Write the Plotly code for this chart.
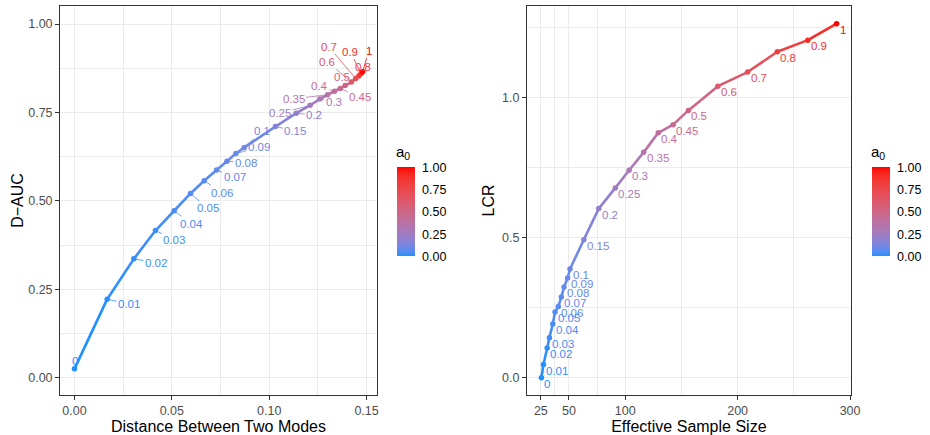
import plotly.graph_objects as go

# ---------------- data ----------------
a0 = [0, 0.01, 0.02, 0.03, 0.04, 0.05, 0.06, 0.07, 0.08, 0.09, 0.1,
      0.15, 0.2, 0.25, 0.3, 0.35, 0.4, 0.45, 0.5, 0.6, 0.7, 0.8, 0.9, 1]
a0_labels = ["0", "0.01", "0.02", "0.03", "0.04", "0.05", "0.06", "0.07", "0.08", "0.09", "0.1",
             "0.15", "0.2", "0.25", "0.3", "0.35", "0.4", "0.45", "0.5", "0.6", "0.7", "0.8", "0.9", "1"]

# left panel
distance = [0.0, 0.0168, 0.0305, 0.0416, 0.0512, 0.0596, 0.0666, 0.0730, 0.0783, 0.0829, 0.0872,
            0.1032, 0.1139, 0.1210, 0.1260, 0.1300, 0.1335, 0.1365, 0.1390, 0.1422, 0.1444,
            0.1460, 0.1472, 0.1480]
dauc = [0.025, 0.222, 0.336, 0.416, 0.472, 0.521, 0.557, 0.587, 0.612, 0.634, 0.651,
        0.710, 0.748, 0.770, 0.788, 0.800, 0.810, 0.818, 0.826, 0.836, 0.846, 0.853, 0.860, 0.865]

# right panel
ess = [25.5, 27.3, 30.6, 32.6, 35.6, 37.6, 40.5, 43.2, 45.6, 48.8, 50.9,
       63.2, 76.5, 91.2, 103.5, 116.4, 129.4, 142.6, 156.2, 182.4, 208.9, 235.3, 262.4, 288.0]
lcr = [0.0, 0.047, 0.106, 0.143, 0.192, 0.235, 0.254, 0.288, 0.3235, 0.356, 0.388,
       0.493, 0.604, 0.678, 0.741, 0.805, 0.875, 0.904, 0.955, 1.0415, 1.092, 1.1645, 1.206, 1.265]

legend_ticks = [0, 0.25, 0.5, 0.75, 1.0]
legend_ticktext = ["0.00", "0.25", "0.50", "0.75", "1.00"]

# repel-style label offsets (pixels) for the left panel: (dx, dy, draw_segment)
left_label_offsets = [
    (1, -8, False), (22, 5, True), (22, 4, True), (19, 9, True), (17, 13, True),
    (17, 15, True), (18, 12, True), (18, 7, True), (19, 1.5, True), (23, -6, True),
    (18, -16, True), (20, 4, True), (18, 2, True), (-30, 8, True), (14, 3, True),
    (-34, 4, True), (-15, -5, True), (20, 9, True), (-3, -9, False), (-24, -20, True),
    (-27, -32, True), (4, -9, False), (-11, -22, True), (6, -21, True),
]

# ---------------- colour scale (Lab interpolation like ggplot) ----------------
LOW = (30, 144, 255)
HIGH = (255, 0, 0)


def _lin(c):
    c = c / 255.0
    return c / 12.92 if c <= 0.04045 else ((c + 0.055) / 1.055) ** 2.4


def _gam(c):
    c = 12.92 * c if c <= 0.0031308 else 1.055 * c ** (1 / 2.4) - 0.055
    return max(0, min(255, round(c * 255)))


WHITE = (0.95047, 1.0, 1.08883)


def rgb2lab(rgb):
    r, g, b = [_lin(v) for v in rgb]
    X = 0.4124 * r + 0.3576 * g + 0.1805 * b
    Y = 0.2126 * r + 0.7152 * g + 0.0722 * b
    Z = 0.0193 * r + 0.1192 * g + 0.9505 * b

    def f(t):
        return t ** (1 / 3) if t > 216 / 24389 else (24389 / 27 * t + 16) / 116
    fx, fy, fz = f(X / WHITE[0]), f(Y / WHITE[1]), f(Z / WHITE[2])
    return (116 * fy - 16, 500 * (fx - fy), 200 * (fy - fz))


def lab2rgb(lab):
    L, a, b = lab
    fy = (L + 16) / 116
    fx = fy + a / 500
    fz = fy - b / 200

    def finv(t):
        return t ** 3 if t ** 3 > 216 / 24389 else (116 * t - 16) / (24389 / 27)
    X, Y, Z = finv(fx) * WHITE[0], finv(fy) * WHITE[1], finv(fz) * WHITE[2]
    r = 3.2406 * X - 1.5372 * Y - 0.4986 * Z
    g = -0.9689 * X + 1.8758 * Y + 0.0415 * Z
    bb = 0.0557 * X - 0.2040 * Y + 1.0570 * Z
    return (_gam(r), _gam(g), _gam(bb))


LAB_LOW, LAB_HIGH = rgb2lab(LOW), rgb2lab(HIGH)


def colour(v):
    lab = tuple(l + (h - l) * v for l, h in zip(LAB_LOW, LAB_HIGH))
    r, g, b = lab2rgb(lab)
    return f"rgb({r},{g},{b})"


colorscale = [[i / 20, colour(i / 20)] for i in range(21)]
cols = [colour(v) for v in a0]

FONT = "Liberation Sans, Arial, sans-serif"

# ---------------- figure ----------------
W, H = 930, 435
fig = go.Figure()

for i in range(len(a0) - 1):
    fig.add_trace(go.Scatter(x=distance[i:i + 2], y=dauc[i:i + 2], mode="lines",
                             line=dict(color=cols[i], width=2.6), hoverinfo="skip",
                             showlegend=False, xaxis="x", yaxis="y"))
    fig.add_trace(go.Scatter(x=ess[i:i + 2], y=lcr[i:i + 2], mode="lines",
                             line=dict(color=cols[i], width=2.6), hoverinfo="skip",
                             showlegend=False, xaxis="x2", yaxis="y2"))

fig.add_trace(go.Scatter(x=distance, y=dauc, mode="markers",
                         marker=dict(size=5.5, color=a0, coloraxis="coloraxis"),
                         showlegend=False, xaxis="x", yaxis="y"))
fig.add_trace(go.Scatter(x=ess, y=lcr, mode="markers",
                         marker=dict(size=5.5, color=a0, coloraxis="coloraxis2"),
                         showlegend=False, xaxis="x2", yaxis="y2"))

annotations = []
for xv, yv, lab, c, (dx, dy, seg) in zip(distance, dauc, a0_labels, cols, left_label_offsets):
    if seg:
        annotations.append(dict(x=xv, y=yv, xref="x", yref="y", text=lab, showarrow=True,
                                ax=dx, ay=dy, arrowhead=0, arrowwidth=0.8, arrowcolor=c,
                                standoff=2, font=dict(size=11.5, color=c, family=FONT)))
    else:
        annotations.append(dict(x=xv, y=yv, xref="x", yref="y", text=lab, showarrow=False,
                                xshift=dx, yshift=-dy,
                                font=dict(size=11.5, color=c, family=FONT)))

for xv, yv, lab, c in zip(ess, lcr, a0_labels, cols):
    annotations.append(dict(x=xv, y=yv, xref="x2", yref="y2", text=lab, showarrow=False,
                            xanchor="left", yanchor="top", xshift=1, yshift=2,
                            font=dict(size=11.5, color=c, family=FONT)))

for xp in (398, 878):
    annotations.append(dict(x=xp / W, y=1 - 152 / H, xref="paper", yref="paper",
                            text="a<sub>0</sub>", showarrow=False, xanchor="left",
                            yanchor="middle", font=dict(size=15, color="black")))

grid = "#EBEBEB"
axis_common = dict(showline=True, mirror=True, linecolor="#333333", linewidth=1,
                   ticks="outside", ticklen=4, tickcolor="#333333", tickwidth=1,
                   showgrid=True, gridcolor=grid, gridwidth=1, zeroline=False,
                   tickfont=dict(size=12.5, color="#4D4D4D"),
                   title_font=dict(size=16, color="black"))

cb_common = dict(thickness=18, thicknessmode="pixels", len=89, lenmode="pixels",
                 y=1 - 212 / H, yanchor="middle", xanchor="left", xpad=0, ypad=0,
                 outlinewidth=0, tickvals=legend_ticks, ticktext=legend_ticktext,
                 ticks="outside", tickcolor="rgba(0,0,0,0)", ticklen=5,
                 tickfont=dict(size=12.5, color="black"))

fig.update_layout(
    width=W, height=H, margin=dict(l=0, r=0, t=0, b=0),
    paper_bgcolor="white", plot_bgcolor="white",
    font=dict(family=FONT),
    showlegend=False,
    xaxis=dict(domain=[60.7 / W, 381 / W], range=[-0.0074, 0.1553], anchor="y",
               tickvals=[0, 0.05, 0.1, 0.15], ticktext=["0.00", "0.05", "0.10", "0.15"],
               minor=dict(tickvals=[0.025, 0.075, 0.125], showgrid=True, gridcolor=grid,
                          gridwidth=0.5),
               title=dict(text="Distance Between Two Modes", standoff=3), **axis_common),
    yaxis=dict(domain=[1 - 395 / H, 1 - 6 / H], range=[-0.049, 1.051], anchor="x",
               tickvals=[0, 0.25, 0.5, 0.75, 1], ticktext=["0.00", "0.25", "0.50", "0.75", "1.00"],
               minor=dict(tickvals=[0.125, 0.375, 0.625, 0.875], showgrid=True, gridcolor=grid,
                          gridwidth=0.5),
               title=dict(text="D\u2212AUC", standoff=0), **axis_common),
    xaxis2=dict(domain=[532.7 / W, 860 / W], range=[12.64, 300.6], anchor="y2",
                tickvals=[25, 50, 100, 200, 300], ticktext=["25", "50", "100", "200", "300"],
                minor=dict(tickvals=[37.5, 75, 150, 250], showgrid=True, gridcolor=grid,
                           gridwidth=0.5),
                title=dict(text="Effective Sample Size", standoff=3), **axis_common),
    yaxis2=dict(domain=[1 - 395 / H, 1 - 6 / H], range=[-0.062, 1.328], anchor="x2",
                tickvals=[0, 0.5, 1.0], ticktext=["0.0", "0.5", "1.0"],
                minor=dict(tickvals=[0.25, 0.75, 1.25], showgrid=True, gridcolor=grid,
                           gridwidth=0.5),
                title=dict(text="LCR", standoff=3), **axis_common),
    coloraxis=dict(colorscale=colorscale, cmin=0, cmax=1,
                   colorbar=dict(x=401 / W, **cb_common)),
    coloraxis2=dict(colorscale=colorscale, cmin=0, cmax=1,
                    colorbar=dict(x=881 / W, **cb_common)),
    annotations=annotations,
)

fig.write_html("out.html")
